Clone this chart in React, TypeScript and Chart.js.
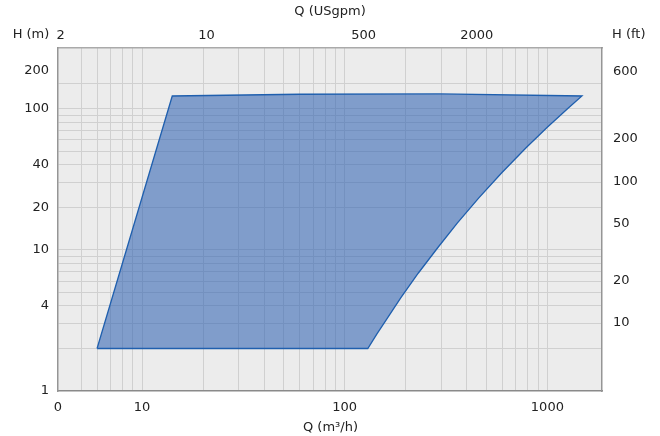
import React, { useEffect, useRef } from "react";
import { Chart, registerables } from "chart.js";

Chart.register(...registerables);

// Operating range polygon (Q in m³/h, H in m)
const flowM3h = [6, 14.1, 60, 294, 1481, 1269, 990, 783, 594, 459, 360, 287, 231, 189, 160, 144, 130, 6];
const headM = [2, 122.8, 126.3, 126.9, 122.8, 100.9, 72.9, 52.6, 35, 23.3, 15.5, 10.3, 6.85, 4.56, 3.18, 2.53, 2, 2];

// Axis ranges
const xMin = 3.85;
const xMax = 1860;
const yMin = 1;
const yMax = 268.5;
const FT_PER_M = 3.28084;

// Grid lines
const xGridValues = [5, 6, 7, 8, 9, 10, 20, 30, 40, 50, 60, 70, 80, 90, 100, 200, 300, 400, 500, 600, 700, 800, 900, 1000];
const yGridValues = [1, 2, 3, 4, 5, 6, 7, 8, 9, 10, 20, 30, 40, 50, 60, 70, 80, 90, 100, 150];

// Tick labels
const bottomTickValues = [3.85, 10, 100, 1000];
const bottomTickLabels = ["0", "10", "100", "1000"];
const topTickValues = [3.97, 20.8, 124, 448];
const topTickLabels = ["2", "10", "500", "2000"];
const leftTickValues = [1, 4, 10, 20, 40, 100, 185];
const leftTickLabels = ["1", "4", "10", "20", "40", "100", "200"];
const rightTickValues = [10, 20, 50, 100, 200, 600];
const rightTickLabels = ["10", "20", "50", "100", "200", "600"];

const FONT_FAMILY = '"DejaVu Sans", "Liberation Sans", Arial, sans-serif';
const TEXT_COLOR = "#222222";
const GRID_COLOR = "#d0d0d0";
const BORDER_COLOR = "#959595";

function unique(arr: number[]) {
  return Array.from(new Set(arr)).sort((a, b) => a - b);
}

function fixSize(size: number) {
  return (scale: any) => {
    if (scale.isHorizontal()) scale.height = size;
    else scale.width = size;
    scale.paddingLeft = 0;
    scale.paddingRight = 0;
    scale.paddingTop = 0;
    scale.paddingBottom = 0;
  };
}

export default function App() {
  const canvasRef = useRef<HTMLCanvasElement | null>(null);

  useEffect(() => {
    if (!canvasRef.current) return;

    const xGridSet = new Set(xGridValues);
    const yGridSet = new Set(yGridValues);
    const xAllTicks = unique([...xGridValues, ...bottomTickValues]);
    const yAllTicks = unique([...yGridValues, ...leftTickValues]);

    const bgPlugin = {
      id: "plotBg",
      beforeDraw(chart: any) {
        const { ctx, chartArea } = chart;
        ctx.save();
        ctx.fillStyle = "#ffffff";
        ctx.fillRect(0, 0, chart.width, chart.height);
        ctx.fillStyle = "#ececec";
        ctx.fillRect(chartArea.left, chartArea.top, chartArea.right - chartArea.left, chartArea.bottom - chartArea.top);
        ctx.restore();
      },
    };

    const titlesPlugin = {
      id: "titles",
      afterDraw(chart: any) {
        const { ctx, chartArea } = chart;
        const cx = (chartArea.left + chartArea.right) / 2;
        ctx.save();
        ctx.font = `13px ${FONT_FAMILY}`;
        ctx.fillStyle = TEXT_COLOR;
        ctx.textBaseline = "middle";
        ctx.textAlign = "center";
        ctx.fillText("Q (USgpm)", cx, 12);
        ctx.fillText("Q (m³/h)", cx + 0.5, 428);
        ctx.fillText("H (m)", 31, 35);
        ctx.textAlign = "left";
        ctx.fillText("H (ft)", 612, 35);
        ctx.restore();
      },
    };

    const tickFont = { family: FONT_FAMILY, size: 13 };

    const chart = new Chart(canvasRef.current, {
      type: "scatter",
      data: {
        datasets: [
          {
            data: flowM3h.map((q, i) => ({ x: q, y: headM[i] })),
            showLine: true,
            fill: "shape",
            backgroundColor: "rgba(40, 93, 176, 0.55)",
            borderColor: "#1f5fae",
            borderWidth: 1.3,
            pointRadius: 0,
            pointHoverRadius: 0,
            tension: 0,
            xAxisID: "x",
            yAxisID: "y",
          } as any,
        ],
      },
      options: {
        animation: false,
        responsive: false,
        maintainAspectRatio: false,
        layout: { padding: 0 },
        plugins: {
          legend: { display: false },
          tooltip: { enabled: false },
          title: { display: false },
        },
        scales: {
          x: {
            type: "logarithmic",
            position: "bottom",
            min: xMin,
            max: xMax,
            afterBuildTicks: (scale: any) => {
              scale.ticks = xAllTicks.map((v) => ({ value: v }));
            },
            afterFit: fixSize(45),
            grid: {
              drawTicks: false,
              lineWidth: 1,
              color: (ctx: any) => (ctx.tick && xGridSet.has(ctx.tick.value) ? GRID_COLOR : "rgba(0,0,0,0)"),
            },
            border: { display: true, color: "#8a8a8a", width: 1.5 },
            ticks: {
              autoSkip: false,
              maxRotation: 0,
              minRotation: 0,
              padding: 9,
              color: TEXT_COLOR,
              font: tickFont,
              callback: (v: any) => {
                const i = bottomTickValues.indexOf(Number(v));
                return i >= 0 ? bottomTickLabels[i] : "";
              },
            },
          },
          x2: {
            type: "logarithmic",
            position: "top",
            min: xMin,
            max: xMax,
            afterBuildTicks: (scale: any) => {
              scale.ticks = topTickValues.map((v) => ({ value: v }));
            },
            afterFit: fixSize(48),
            grid: { display: false, drawTicks: false },
            border: { display: true, color: "#aaaaaa", width: 1.5 },
            ticks: {
              autoSkip: false,
              maxRotation: 0,
              minRotation: 0,
              padding: 5,
              color: TEXT_COLOR,
              font: tickFont,
              callback: (v: any) => {
                const i = topTickValues.indexOf(Number(v));
                return i >= 0 ? topTickLabels[i] : "";
              },
            },
          },
          y: {
            type: "logarithmic",
            position: "left",
            min: yMin,
            max: yMax,
            afterBuildTicks: (scale: any) => {
              scale.ticks = yAllTicks.map((v) => ({ value: v }));
            },
            afterFit: fixSize(58),
            grid: {
              drawTicks: false,
              lineWidth: 1,
              color: (ctx: any) => (ctx.tick && yGridSet.has(ctx.tick.value) && ctx.tick.value !== yMin ? GRID_COLOR : "rgba(0,0,0,0)"),
            },
            border: { display: true, color: BORDER_COLOR, width: 1.5 },
            ticks: {
              autoSkip: false,
              padding: 9,
              color: TEXT_COLOR,
              font: tickFont,
              callback: (v: any) => {
                const i = leftTickValues.indexOf(Number(v));
                return i >= 0 ? leftTickLabels[i] : "";
              },
            },
          },
          y2: {
            type: "logarithmic",
            position: "right",
            min: yMin * FT_PER_M,
            max: yMax * FT_PER_M,
            afterBuildTicks: (scale: any) => {
              scale.ticks = rightTickValues.map((v) => ({ value: v }));
            },
            afterFit: fixSize(58),
            grid: { display: false, drawTicks: false },
            border: { display: true, color: BORDER_COLOR, width: 1.5 },
            ticks: {
              autoSkip: false,
              padding: 11,
              color: TEXT_COLOR,
              font: tickFont,
              callback: (v: any) => {
                const i = rightTickValues.indexOf(Number(v));
                return i >= 0 ? rightTickLabels[i] : "";
              },
            },
          },
        },
      } as any,
      plugins: [bgPlugin, titlesPlugin],
    });

    return () => {
      chart.destroy();
    };
  }, []);

  return (
    <div style={{ position: "absolute", left: 0, top: 0, width: 660, height: 436, background: "#ffffff" }}>
      <canvas ref={canvasRef} width={660} height={436} style={{ width: 660, height: 436, display: "block" }} />
    </div>
  );
}
